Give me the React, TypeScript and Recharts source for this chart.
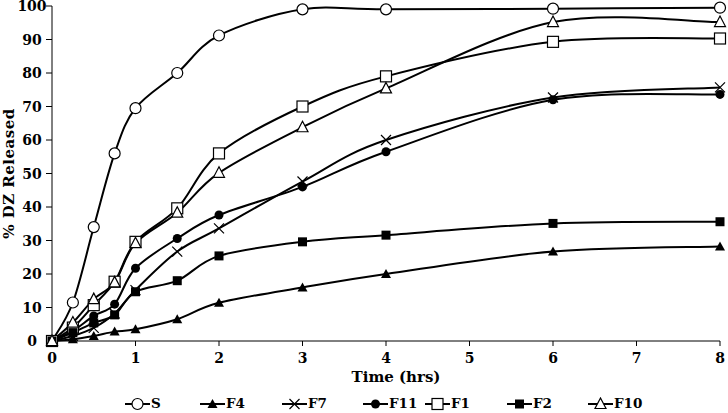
import React from 'react';
import { LineChart, Line, XAxis, YAxis, Label } from 'recharts';

const TIME = [0, 0.25, 0.5, 0.75, 1, 1.5, 2, 3, 4, 6, 8];
const S = [0, 11.5, 34, 56, 69.5, 80, 91.2, 99, 99, 99.2, 99.5];
const F4 = [0, 0.5, 1.5, 2.8, 3.5, 6.5, 11.4, 16, 20, 26.7, 28.2];
const F7 = [0, 1.5, 3.9, 8.2, 15.2, 26.7, 33.6, 47.6, 60, 72.7, 75.7];
const F11 = [0, 3, 7.5, 11, 21.7, 30.6, 37.6, 46, 56.5, 72, 73.6];
const F1 = [0, 4, 10.7, 17.7, 29.6, 39.6, 56, 70, 79, 89.3, 90.3];
const F2 = [0, 2.5, 5.4, 7.8, 14.7, 18, 25.4, 29.6, 31.6, 35.1, 35.6];
const F10 = [0, 5.5, 12.5, 17.5, 29.2, 38.3, 50.2, 63.8, 75.4, 95.2, 95.2];

const X_TICKS = [0, 1, 2, 3, 4, 5, 6, 7, 8];
const Y_TICKS = [0, 10, 20, 30, 40, 50, 60, 70, 80, 90, 100];

type Shape = 'circle' | 'triangleFill' | 'cross' | 'dot' | 'square' | 'squareFill' | 'triangle';

const SERIES: { key: string; values: number[]; shape: Shape }[] = [
  { key: 'S', values: S, shape: 'circle' },
  { key: 'F4', values: F4, shape: 'triangleFill' },
  { key: 'F7', values: F7, shape: 'cross' },
  { key: 'F11', values: F11, shape: 'dot' },
  { key: 'F1', values: F1, shape: 'square' },
  { key: 'F2', values: F2, shape: 'squareFill' },
  { key: 'F10', values: F10, shape: 'triangle' },
];

const data = TIME.map((t, i) => {
  const row: Record<string, number> = { time: t };
  SERIES.forEach(s => { row[s.key] = s.values[i]; });
  return row;
});

const FONT = '"DejaVu Serif", "Liberation Serif", serif';

// Excel-style smoothing (Catmull-Rom through every point)
const excelSmooth = (context: any) => {
  let pts: number[][] = [];
  return {
    areaStart() {},
    areaEnd() {},
    lineStart() { pts = []; },
    point(x: number, y: number) { pts.push([+x, +y]); },
    lineEnd() {
      const n = pts.length;
      if (!n) return;
      context.moveTo(pts[0][0], pts[0][1]);
      for (let i = 0; i < n - 1; i++) {
        const p0 = pts[Math.max(i - 1, 0)];
        const p1 = pts[i];
        const p2 = pts[i + 1];
        const p3 = pts[Math.min(i + 2, n - 1)];
        context.bezierCurveTo(
          p1[0] + (p2[0] - p0[0]) / 6, p1[1] + (p2[1] - p0[1]) / 6,
          p2[0] - (p3[0] - p1[0]) / 6, p2[1] - (p3[1] - p1[1]) / 6,
          p2[0], p2[1]
        );
      }
    },
  };
};

const Marker = ({ shape, cx, cy }: { shape: Shape; cx: number; cy: number }) => {
  switch (shape) {
    case 'circle':
      return <circle cx={cx} cy={cy} r={5.5} fill="#fff" stroke="#000" strokeWidth={1.2} />;
    case 'dot':
      return <circle cx={cx} cy={cy} r={4.5} fill="#000" />;
    case 'square':
      return <rect x={cx - 5.5} y={cy - 5.5} width={11} height={11} fill="#fff" stroke="#000" strokeWidth={1.2} />;
    case 'squareFill':
      return <rect x={cx - 4.5} y={cy - 4.5} width={9} height={9} fill="#000" />;
    case 'triangle':
      return <path d={`M${cx},${cy - 6} L${cx + 5.5},${cy + 4.5} L${cx - 5.5},${cy + 4.5} Z`} fill="#fff" stroke="#000" strokeWidth={1.2} />;
    case 'triangleFill':
      return <path d={`M${cx},${cy - 5} L${cx + 5},${cy + 4} L${cx - 5},${cy + 4} Z`} fill="#000" />;
    case 'cross':
      return <path d={`M${cx - 5},${cy - 5} L${cx + 5},${cy + 5} M${cx - 5},${cy + 5} L${cx + 5},${cy - 5}`} stroke="#000" strokeWidth={1.2} fill="none" />;
  }
  return null;
};

const YTick = (props: any) => {
  const { x, y, payload } = props;
  return (
    <text x={x - 12} y={y} dy="0.36em" textAnchor="middle" fontFamily={FONT} fontWeight="bold" fontSize={14} fill="#000">
      {payload.value}
    </text>
  );
};

const LEGEND_LEFT = [125, 200, 282, 363, 425, 507, 588];

const ChartLegend = () => (
  <div style={{ position: 'absolute', left: 0, top: 394, width: 728, height: 19 }}>
    {SERIES.map((s, i) => (
      <div key={s.key} style={{ position: 'absolute', left: LEGEND_LEFT[i], top: 0, display: 'flex', alignItems: 'center', height: 19 }}>
        <svg width={25} height={14}>
          <line x1={0} y1={7} x2={25} y2={7} stroke="#000" strokeWidth={2} />
          <Marker shape={s.shape} cx={12.5} cy={7} />
        </svg>
        <span style={{ fontFamily: FONT, fontWeight: 'bold', fontSize: 13.5, marginLeft: 1, color: '#000', lineHeight: '19px' }}>{s.key}</span>
      </div>
    ))}
  </div>
);

export default function App() {
  return (
    <div style={{ position: 'absolute', left: 0, top: 0, width: 728, height: 413, background: '#fff' }}>
      <LineChart width={728} height={413} data={data} margin={{ top: 6, right: 8, bottom: 0, left: 0 }}>
        <XAxis
          dataKey="time"
          type="number"
          domain={[0, 8]}
          ticks={X_TICKS}
          interval={0}
          axisLine={{ stroke: '#000', strokeWidth: 1 }}
          tickLine={{ stroke: '#000', strokeWidth: 1 }}
          tickSize={5}
          tickMargin={7}
          tick={{ fontFamily: FONT, fontWeight: 'bold', fontSize: 14, fill: '#000' }}
          height={72}
        >
          <Label
            value="Time (hrs)"
            position="insideTop"
            offset={30}
            dx={10}
            style={{ fontFamily: FONT, fontWeight: 'bold', fontSize: 15, fill: '#000' }}
          />
        </XAxis>
        <YAxis
          type="number"
          domain={[0, 100]}
          ticks={Y_TICKS}
          interval={0}
          width={52}
          axisLine={{ stroke: '#000', strokeWidth: 1 }}
          tickLine={{ stroke: '#000', strokeWidth: 1 }}
          tickSize={6}
          tickMargin={2}
          tick={<YTick />}
        >
          <Label
            value="% DZ Released"
            angle={-90}
            position="insideLeft"
            offset={9}
            style={{ fontFamily: FONT, fontWeight: 'bold', fontSize: 15, fill: '#000', textAnchor: 'middle', letterSpacing: 0.5 }}
          />
        </YAxis>
        {SERIES.map(s => (
          <Line
            key={s.key}
            dataKey={s.key}
            type={excelSmooth as any}
            stroke="#000"
            strokeWidth={2}
            isAnimationActive={false}
            activeDot={false}
            dot={(p: any) => (
              <g key={`${s.key}-${p.index}`}>
                <Marker shape={s.shape} cx={p.cx} cy={p.cy} />
              </g>
            )}
          />
        ))}
      </LineChart>
      <ChartLegend />
    </div>
  );
}
